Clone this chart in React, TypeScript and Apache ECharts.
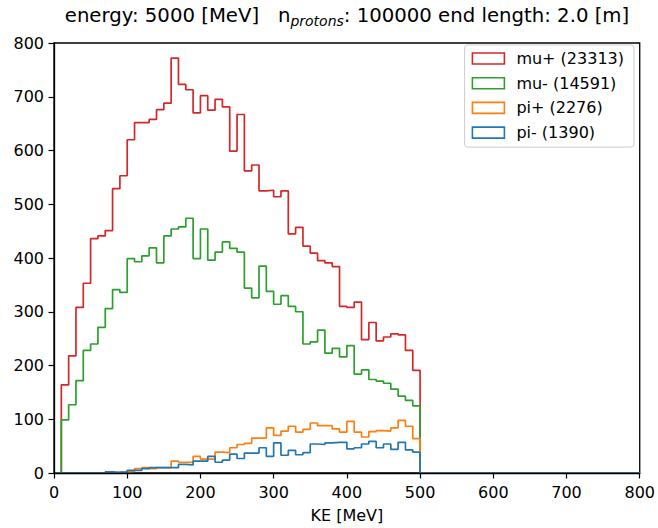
import React, { useEffect, useRef } from "react";
import * as echarts from "echarts";

// Histogram binning (KE in MeV)
const BIN_WIDTH = 10;
const FIRST_BIN = 10; // lower edge of first listed bin
const X_MIN = 0;
const X_MAX = 800;
const X_INTERVAL = 100;
const Y_MIN = 0;
const Y_MAX = 800;
const Y_INTERVAL = 100;

// Counts per 10 MeV bin, bins 10-20 ... 490-500
const muPlus = [
  164, 218, 308, 353, 436, 441, 451, 529, 553, 620,
  652, 652, 658, 676, 688, 772, 723, 713, 670, 702,
  675, 695, 681, 599, 667, 562, 573, 525, 526, 514,
  525, 445, 457, 422, 409, 395, 391, 384, 310, 308,
  318, 248, 280, 246, 253, 259, 257, 228, 191,
];
const muMinus = [
  99, 127, 172, 228, 240, 271, 306, 341, 336, 399,
  393, 404, 419, 391, 441, 454, 458, 474, 399, 454,
  396, 411, 430, 418, 411, 344, 326, 385, 338, 314,
  330, 310, 300, 240, 244, 266, 223, 232, 216, 237,
  184, 192, 174, 171, 167, 156, 143, 135, 125,
];
const piPlus = [
  0, 0, 0, 0, 0, 0, 0, 0, 2, 3,
  8, 10, 8, 10, 10, 22, 20, 20, 31, 26,
  26, 39, 38, 47, 53, 55, 65, 65, 84, 70,
  78, 87, 76, 81, 93, 88, 88, 82, 76, 96,
  76, 67, 77, 79, 78, 84, 98, 87, 64,
];
const piMinus = [
  0, 0, 0, 0, 0, 0, 2, 1, 1, 5,
  5, 8, 10, 10, 10, 10, 16, 15, 22, 22,
  31, 20, 24, 35, 27, 37, 37, 47, 31, 56,
  33, 42, 34, 38, 54, 53, 56, 57, 57, 45,
  47, 54, 59, 47, 54, 44, 57, 43, 39,
];

const seriesNames = ["mu+ (23313)", "mu- (14591)", "pi+ (2276)", "pi- (1390)"];
const seriesValues = [muPlus, muMinus, piPlus, piMinus];
const colors = ["#d62728", "#2ca02c", "#ff7f0e", "#1f77b4"];

const FONT = "DejaVu Sans";

function outline(values: number[]): number[][] {
  const pts: number[][] = [[X_MIN, 0]];
  values.forEach((v, i) => pts.push([FIRST_BIN + i * BIN_WIDTH, v]));
  pts.push([FIRST_BIN + values.length * BIN_WIDTH, 0]);
  pts.push([X_MAX, 0]);
  return pts;
}

export default function App() {
  const ref = useRef<HTMLDivElement>(null);
  useEffect(() => {
    document.body.style.margin = "0";
    const chart = echarts.init(ref.current!, null, { renderer: "svg" });
    const axisCommon = {
      axisLine: { show: true, lineStyle: { color: "#000", width: 1.3 } },
      axisTick: { show: true, length: 5.5, lineStyle: { color: "#000", width: 1.2 } },
      splitLine: { show: false },
      z: 10,
    };
    chart.setOption({
      animation: false,
      backgroundColor: "#fff",
      title: {
        text: "{a|energy: 5000 [MeV]   n}{s|protons}{a|: 100000 end length: 2.0 [m]}",
        left: 347,
        textAlign: "center",
        top: 3,
        padding: 0,
        textStyle: {
          fontWeight: "normal",
          rich: {
            a: { fontFamily: FONT, fontSize: 19.7, fontWeight: "normal", color: "#000" },
            s: { fontFamily: FONT, fontSize: 14, fontWeight: "normal", fontStyle: "italic", color: "#000", padding: [11, 0, 0, 0] },
          },
        },
      },
      grid: {
        left: 54,
        right: 17,
        top: 43,
        bottom: 54,
        show: true,
        borderColor: "#000",
        borderWidth: 1.3,
        backgroundColor: "transparent",
      },
      legend: {
        orient: "vertical",
        right: 24,
        top: 45,
        padding: [5, 10, 6, 7],
        itemGap: 7.7,
        itemWidth: 32,
        itemHeight: 11,
        borderColor: "#cccccc",
        borderWidth: 1,
        borderRadius: 3,
        backgroundColor: "rgba(255,255,255,0.8)",
        textStyle: { fontFamily: FONT, fontSize: 16, color: "#000", lineHeight: 17, padding: [0, 0, 0, 7] },
        data: seriesNames.map((n, i) => ({
          name: n,
          icon: "rect",
          itemStyle: { color: "rgba(255,255,255,0)", borderColor: colors[i], borderWidth: 1.6 },
        })),
      },
      xAxis: {
        type: "value",
        min: X_MIN,
        max: X_MAX,
        interval: X_INTERVAL,
        name: "KE [MeV]",
        nameLocation: "middle",
        nameGap: 34,
        nameTextStyle: { fontFamily: FONT, fontSize: 16, color: "#000" },
        axisLabel: { fontFamily: FONT, fontSize: 16, color: "#000", margin: 11 },
        ...axisCommon,
      },
      yAxis: {
        type: "value",
        min: Y_MIN,
        max: Y_MAX,
        interval: Y_INTERVAL,
        axisLabel: { fontFamily: FONT, fontSize: 16, color: "#000", margin: 10 },
        ...axisCommon,
      },
      series: seriesValues.map((vals, i) => ({
        name: seriesNames[i],
        type: "line",
        step: "end",
        symbol: "none",
        data: outline(vals),
        lineStyle: { color: colors[i], width: 1.7 },
        itemStyle: { color: colors[i] },
        z: 2 + i,
      })),
    });
    return () => chart.dispose();
  }, []);
  return <div ref={ref} style={{ width: 658, height: 528 }} />;
}
